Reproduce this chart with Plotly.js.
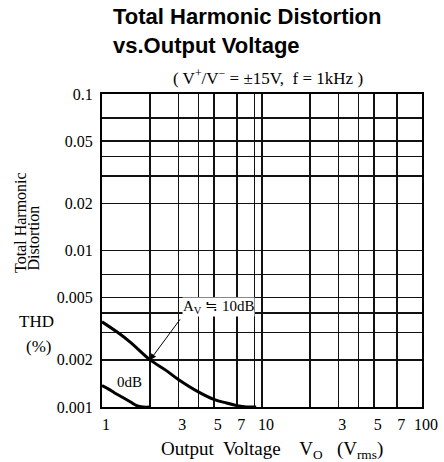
<!DOCTYPE html>
<html>
<head>
<meta charset="utf-8">
<script src="https://cdn.plot.ly/plotly-3.0.1.min.js"></script>
<style>html,body{margin:0;padding:0;background:#fff;}#chart{width:444px;height:462px;}</style>
</head>
<body>
<div id="chart"></div>
<script>
// Tick labels and grid values
const xTickVals = [1, 3, 5, 7, 10, 30, 50, 70, 100];
const xTickText = ['1', '3', '5', '7', '10', '3', '5', '7', '100'];
const xMinorVals = [2, 4, 9, 20, 40];
const yTickVals = [0.001, 0.002, 0.005, 0.01, 0.02, 0.05, 0.1];
const yTickText = ['0.001', '0.002', '0.005', '0.01', '0.02', '0.05', '0.1'];
const yMinorVals = [0.003, 0.004, 0.007, 0.03, 0.04, 0.07];

// Series: Av = 10 dB
const av10X = [1, 1.25, 1.5, 2, 2.5, 3, 4, 5, 6, 7, 8, 9.2];
const av10Y = [0.0035, 0.003, 0.0026, 0.002, 0.00172, 0.0015, 0.00125, 0.00112, 0.00106, 0.00102, 0.001, 0.001];
// Series: 0 dB
const av0X = [1, 1.1, 1.2, 1.35, 1.5, 1.65, 1.8, 2];
const av0Y = [0.00137, 0.0013, 0.00123, 0.00115, 0.00108, 0.00102, 0.001, 0.001];

const serif = 'Liberation Serif, Times New Roman, serif';
const gridCol = '#111';

const traces = [
  {x: av10X, y: av10Y, mode: 'lines', line: {color: '#000', width: 3, shape: 'spline', smoothing: 1}, hoverinfo: 'skip'},
  {x: av0X, y: av0Y, mode: 'lines', line: {color: '#000', width: 3, shape: 'spline', smoothing: 1}, hoverinfo: 'skip'}
];

const layout = {
  width: 444, height: 462,
  margin: {l: 102, r: 22, t: 94, b: 55},
  paper_bgcolor: '#fff', plot_bgcolor: '#fff',
  showlegend: false,
  title: {
    text: 'Total Harmonic Distortion<br>vs.Output Voltage',
    xref: 'container', x: 113 / 444, xanchor: 'left',
    yref: 'container', y: 0.948, yanchor: 'top',
    font: {family: 'Liberation Sans, Arial, sans-serif', size: 22, color: '#000', weight: 'bold'}
  },
  xaxis: {
    type: 'log', range: [0, 2],
    tickmode: 'array', tickvals: xTickVals, ticktext: xTickText,
    ticks: '', ticklabelshift: 4, ticklabelstandoff: 2,
    tickfont: {family: serif, size: 16, color: '#000'},
    showgrid: true, gridcolor: gridCol, gridwidth: 1.5,
    minor: {tickmode: 'array', tickvals: xMinorVals, showgrid: true, gridcolor: gridCol, gridwidth: 1.5, ticks: ''},
    showline: true, linecolor: '#000', linewidth: 2, mirror: true,
    zeroline: false
  },
  yaxis: {
    type: 'log', range: [-3, -1],
    tickmode: 'array', tickvals: yTickVals, ticktext: yTickText,
    ticks: '', ticklabelstandoff: 4,
    tickfont: {family: serif, size: 16, color: '#000'},
    showgrid: true, gridcolor: gridCol, gridwidth: 1.5,
    minor: {tickmode: 'array', tickvals: yMinorVals, showgrid: true, gridcolor: gridCol, gridwidth: 1.5, ticks: ''},
    showline: true, linecolor: '#000', linewidth: 2, mirror: true,
    zeroline: false
  },
  annotations: [
    {xref: 'paper', yref: 'paper', x: 0.519, y: 1.0545, xanchor: 'center', yanchor: 'middle', showarrow: false,
     text: '( V<sup>+</sup>/V<sup>−</sup> = ±15V,  f = 1kHz )', font: {family: serif, size: 17, color: '#000'}},
    {xref: 'paper', yref: 'paper', x: 0.531, y: -0.137, xanchor: 'center', yanchor: 'middle', showarrow: false,
     text: 'Output  Voltage    V<sub>O</sub>   (V<sub>rms</sub>)', font: {family: serif, size: 19, color: '#000'}},
    {xref: 'paper', yref: 'paper', x: -0.253, y: 0.588, xanchor: 'center', yanchor: 'middle', showarrow: false,
     textangle: -90, text: 'Total Harmonic', font: {family: serif, size: 16, color: '#000'}},
    {xref: 'paper', yref: 'paper', x: -0.2125, y: 0.538, xanchor: 'center', yanchor: 'middle', showarrow: false,
     textangle: -90, text: 'Distortion', font: {family: serif, size: 16, color: '#000'}},
    {xref: 'paper', yref: 'paper', x: -0.205, y: 0.273, xanchor: 'center', yanchor: 'middle', showarrow: false,
     text: 'THD', font: {family: serif, size: 17, color: '#000'}},
    {xref: 'paper', yref: 'paper', x: -0.2, y: 0.193, xanchor: 'center', yanchor: 'middle', showarrow: false,
     text: '(%)', font: {family: serif, size: 17, color: '#000'}},
    {xref: 'x', yref: 'y', x: Math.log10(5.38), y: Math.log10(0.00436), xanchor: 'center', yanchor: 'middle', showarrow: false,
     text: 'A<sub>V</sub> ≒ 10dB', bgcolor: '#fff', borderpad: 0, font: {family: serif, size: 15, color: '#000'}},
    {xref: 'x', yref: 'y', x: Math.log10(2), y: Math.log10(0.002), ax: 31, ay: -42, showarrow: true,
     arrowhead: 2, arrowsize: 1.2, arrowwidth: 1, arrowcolor: '#000', text: ''},
    {xref: 'x', yref: 'y', x: Math.log10(1.475), y: Math.log10(0.00145), xanchor: 'center', yanchor: 'middle', showarrow: false,
     text: '0dB', bgcolor: '#fff', borderpad: 0, font: {family: serif, size: 15, color: '#000'}}
  ]
};

Plotly.newPlot('chart', traces, layout, {displayModeBar: false, staticPlot: true});
</script>
</body>
</html>
